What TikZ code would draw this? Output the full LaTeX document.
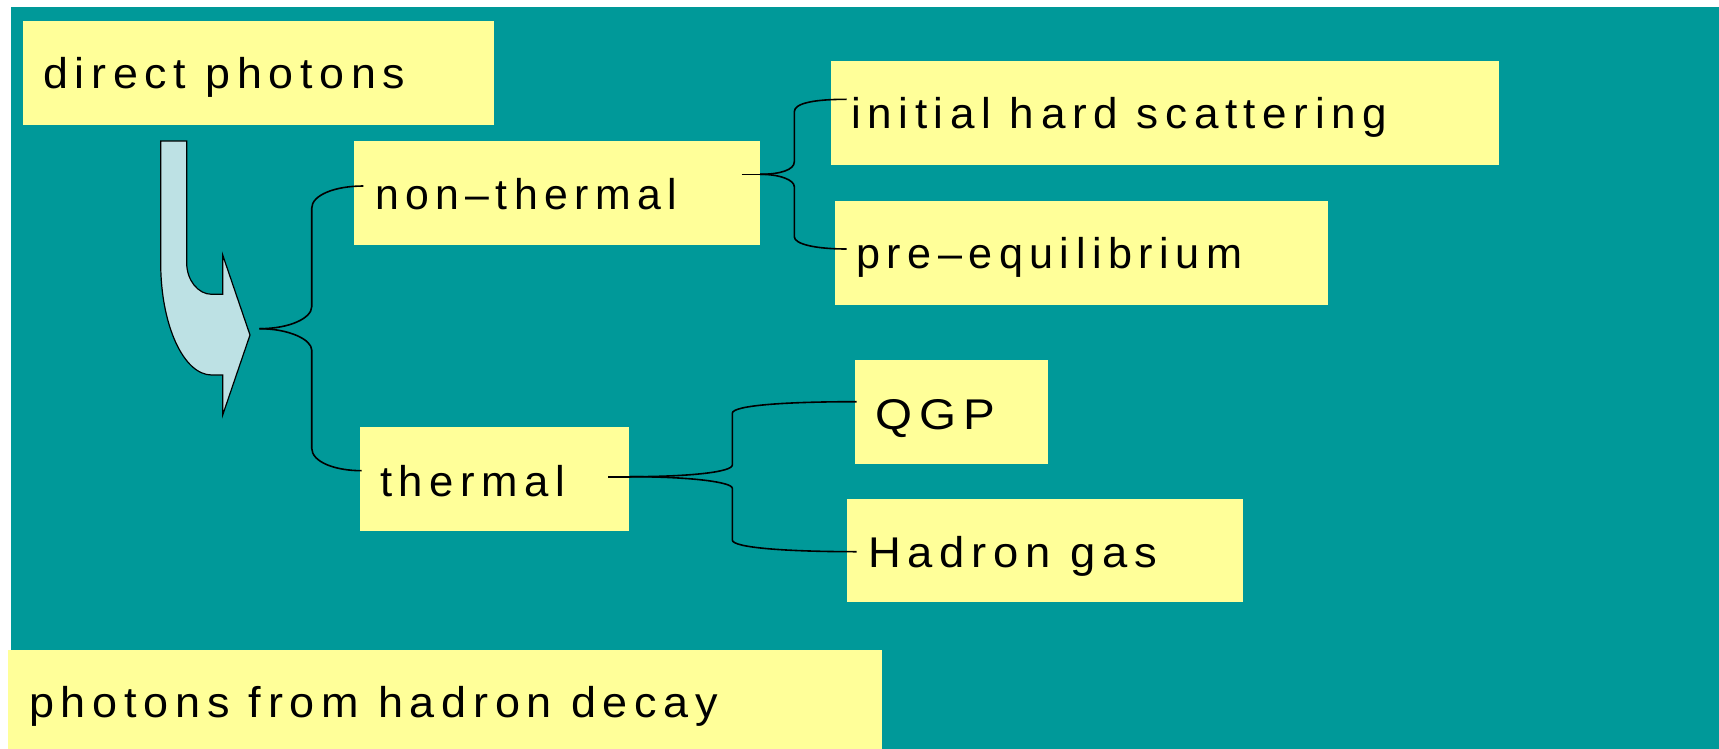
\documentclass[tikz,border=0pt]{standalone}
\usepackage{fontspec}
\usepackage{graphicx}
\newfontfamily\lsf{Liberation Sans}[LetterSpace=15]
\definecolor{teal0}{HTML}{009999}
\definecolor{yel}{HTML}{FFFF99}
\definecolor{arrowblue}{HTML}{BDE1E4}
\tikzset{
  ybox/.style={fill=yel, draw=none, inner sep=0pt, anchor=north west},
  txt/.style={inner sep=0pt, anchor=base west, font=\lsf\fontsize{43}{50}\selectfont},
  conn/.style={draw=black, line width=1.6pt},
}
\newcommand{\fitw}[2]{\resizebox{#1pt}{\height}{#2}}
\begin{document}
\begin{tikzpicture}[x=1pt,y=-1pt]
\useasboundingbox (0,0) rectangle (1719,749);
\fill[white] (0,0) rectangle (1719,749);
\fill[teal0] (11,7) rectangle (1719,749);
% boxes
\node[ybox, minimum width=471pt, minimum height=104pt] (dp) at (22.7,21) {};
\node[ybox, minimum width=406pt, minimum height=104pt] (nt) at (354,141) {};
\node[ybox, minimum width=668pt, minimum height=104pt] (ihs) at (831,61) {};
\node[ybox, minimum width=493pt, minimum height=104pt] (pe) at (835,201) {};
\node[ybox, minimum width=193pt, minimum height=104pt] (qgp) at (855,360) {};
\node[ybox, minimum width=269pt, minimum height=104pt] (th) at (360,427) {};
\node[ybox, minimum width=396pt, minimum height=103pt] (hg) at (847,499) {};
\node[ybox, minimum width=874pt, minimum height=99pt] (hd) at (8,650) {};
% texts
\node[txt] (dpt) at (43,89) {\fitw{362}{direct photons}};
\node[txt] (ntt) at (375,209) {\fitw{302}{non–thermal}};
\node[txt] (ihst) at (851,129) {\fitw{536}{initial hard scattering}};
\node[txt] (pet) at (856,268) {\fitw{386}{pre–equilibrium}};
\node[txt] (qgpt) at (875,429) {\fitw{120}{QGP}};
\node[txt] (tht) at (380,496) {\fitw{185}{thermal}};
\node[txt] (hgt) at (868,567) {\fitw{289}{Hadron gas}};
\node[txt] (hdt) at (29,717) {\fitw{689}{photons from hadron decay}};
% arrow
\draw[fill=arrowblue, line width=1.2pt, line join=miter]
  (160.7,141) -- (186.7,141) -- (186.7,263)
  .. controls (186.7,280) and (197.9,294.3) .. (211.7,294.3)
  -- (222.7,294.3) -- (222.7,255) -- (250,335) -- (222.7,415) -- (222.7,375) -- (211.7,375)
  .. controls (183.5,375) and (160.7,324.8) .. (160.7,263) -- cycle;
% brace 1
\coordinate (b1) at (259.3,328.7);
\coordinate (b1u) at (363.3,186);
\coordinate (b1d) at (361.7,470.7);
\draw[conn] (b1) .. controls (290,328.7) and (311.7,318) .. (311.7,306.7) -- (311.7,208.3)
  .. controls (311.7,195) and (335,186) .. (b1u);
\draw[conn] (b1) .. controls (290,328.7) and (311.7,340) .. (311.7,350) -- (311.7,448)
  .. controls (311.7,462) and (335,470.7) .. (b1d);
% brace 2
\coordinate (b2s) at (741.7,174.3);
\coordinate (b2) at (760,174.3);
\coordinate (b2u) at (846.7,99.3);
\coordinate (b2d) at (846.7,249);
\draw[conn] (b2s) -- (b2);
\draw[conn] (b2) .. controls (780,174.3) and (794.3,170) .. (794.3,161.7) -- (794.3,111.7)
  .. controls (794.3,103) and (815,99.3) .. (b2u);
\draw[conn] (b2) .. controls (780,174.3) and (794.3,180) .. (794.3,186.7) -- (794.3,236.7)
  .. controls (794.3,244) and (815,249) .. (b2d);
% brace 3
\coordinate (b3s) at (608.3,476.7);
\coordinate (b3) at (630,476.7);
\coordinate (b3u) at (856.7,401.7);
\coordinate (b3d) at (856.7,551.7);
\draw[conn] (b3s) -- (b3);
\draw[conn] (b3) .. controls (690,476.7) and (732.3,472) .. (732.3,465) -- (732.3,413.3)
  .. controls (732.3,405) and (790,401.7) .. (b3u);
\draw[conn] (b3) .. controls (690,476.7) and (732.3,482) .. (732.3,488.3) -- (732.3,540)
  .. controls (732.3,548) and (790,551.7) .. (b3d);
\end{tikzpicture}
\end{document}
